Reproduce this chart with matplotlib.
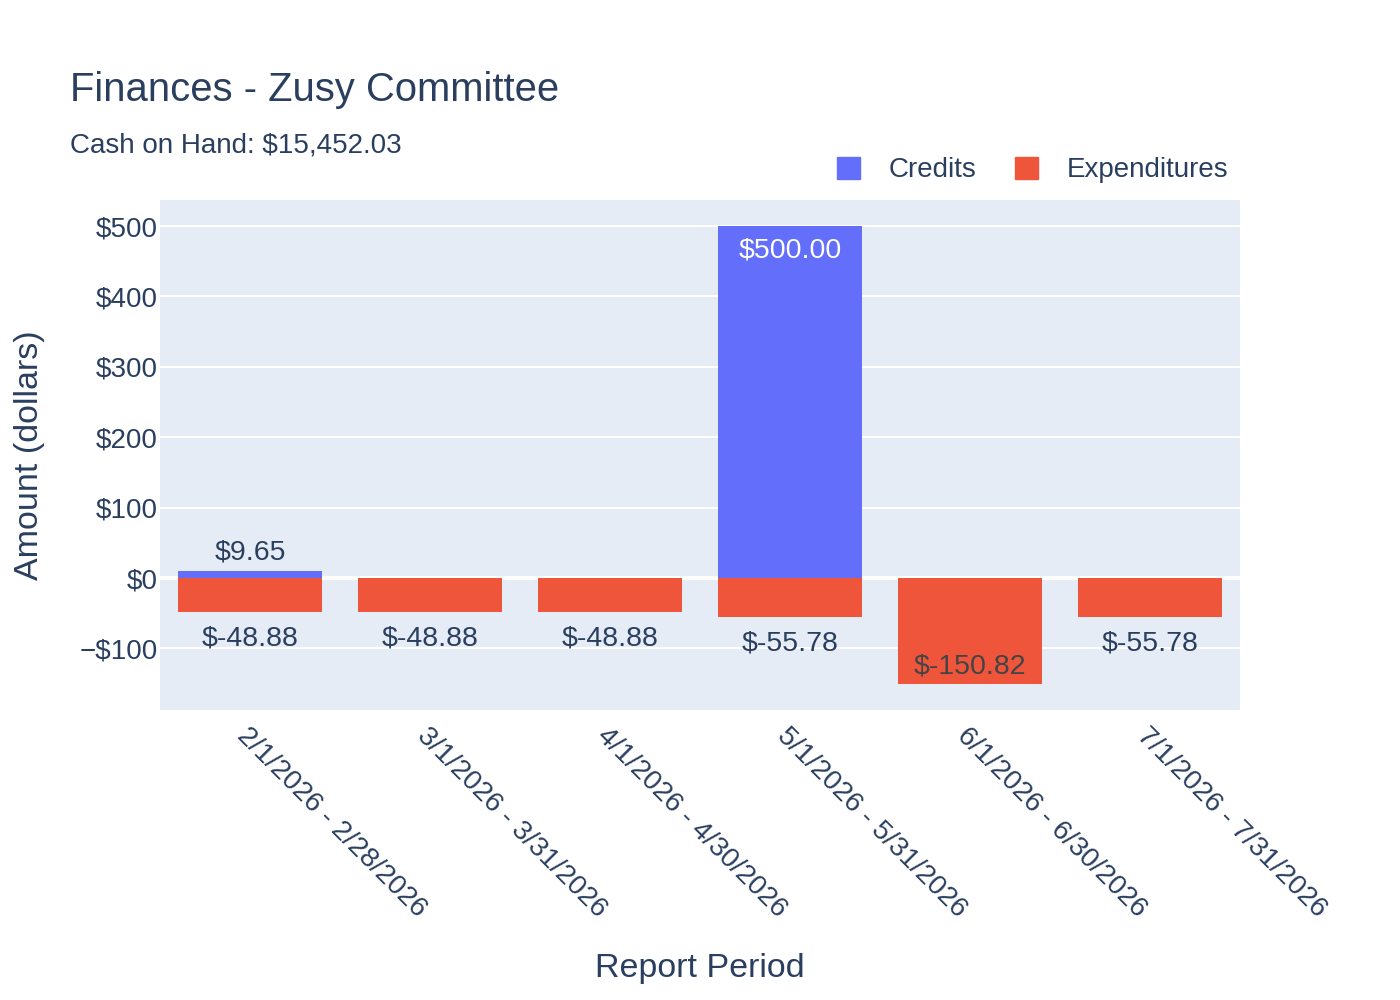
import matplotlib
matplotlib.use("Agg")
import matplotlib.pyplot as plt
from matplotlib.patches import Patch

plt.rcParams['font.family'] = ['Liberation Sans', 'DejaVu Sans']

periods = ["2/1/2026 - 2/28/2026", "3/1/2026 - 3/31/2026", "4/1/2026 - 4/30/2026",
           "5/1/2026 - 5/31/2026", "6/1/2026 - 6/30/2026", "7/1/2026 - 7/31/2026"]
credits = [9.65, 0, 0, 500.00, 0, 0]
expenditures = [-48.88, -48.88, -48.88, -55.78, -150.82, -55.78]
y_ticks = [-100, 0, 100, 200, 300, 400, 500]
y_tick_labels = ["\u2212$100", "$0", "$100", "$200", "$300", "$400", "$500"]

TEXT = "#2a3f5f"
BLUE = "#636efa"
RED = "#EF553B"
BG = "#E5ECF6"

fig = plt.figure(figsize=(14, 10), dpi=100)
ax = fig.add_axes([160/1400, 1-710/1000, 1080/1400, 510/1000])
ax.set_facecolor(BG)
for s in ax.spines.values():
    s.set_visible(False)

x = list(range(len(periods)))
ax.set_xlim(-0.5, len(periods) - 0.5)
ax.set_ylim(-187.5, 537)
ax.set_yticks(y_ticks)
ax.set_yticklabels(y_tick_labels)
ax.grid(axis='y', color='white', linewidth=1.5)
ax.set_axisbelow(True)
ax.axhline(0, color='white', linewidth=3, zorder=1.5)
ax.tick_params(axis='both', length=0, labelsize=20, colors=TEXT)
ax.tick_params(axis='y', pad=1.5)

ax.bar(x, credits, width=0.8, color=BLUE, zorder=2)
ax.bar(x, expenditures, width=0.8, color=RED, zorder=2)

yr = 537 + 187.5
px = yr / 510.0  # data units per pixel
LS = 20.5
for i, v in enumerate(credits):
    if v == 0:
        continue
    if v > 60:
        ax.text(i, v - 11 * px, f"${v:,.2f}", ha='center', va='top', color='white', fontsize=LS, zorder=3)
    else:
        ax.text(i, v + 6 * px, f"${v:,.2f}", ha='center', va='bottom', color=TEXT, fontsize=LS, zorder=3)
for i, v in enumerate(expenditures):
    if v < -120:
        ax.text(i, v + 5 * px, f"$-{abs(v):,.2f}", ha='center', va='bottom', color='#444444', fontsize=LS, zorder=3)
    else:
        ax.text(i, v - 13 * px, f"$-{abs(v):,.2f}", ha='center', va='top', color=TEXT, fontsize=LS, zorder=3)

ax.set_xticks(x)
ax.set_xticklabels(periods, rotation=-45, ha='left', va='top', rotation_mode='anchor')
ax.tick_params(axis='x', pad=9)

ax.set_ylabel("Amount (dollars)", fontsize=24.5, color=TEXT, labelpad=25)
fig.text(700/1400, 1-968/1000, "Report Period", ha='center', va='center', fontsize=24.5, color=TEXT)

fig.text(70/1400, 1-90/1000, "Finances - Zusy Committee", ha='left', va='center', fontsize=28.8, color=TEXT)
fig.text(70/1400, 1-145/1000, "Cash on Hand: $15,452.03", ha='left', va='center', fontsize=20, color=TEXT)

handles = [Patch(color=BLUE, label="Credits"), Patch(color=RED, label="Expenditures")]
leg = fig.legend(handles=handles, loc='center right', bbox_to_anchor=(1239/1400, 1-170/1000), ncol=2,
                 frameon=False, fontsize=20, handlelength=0.85, handleheight=0.85,
                 columnspacing=1.4, handletextpad=1.0, borderaxespad=0)
for t in leg.get_texts():
    t.set_color(TEXT)

fig.savefig("out.png", dpi=100, facecolor='white')
